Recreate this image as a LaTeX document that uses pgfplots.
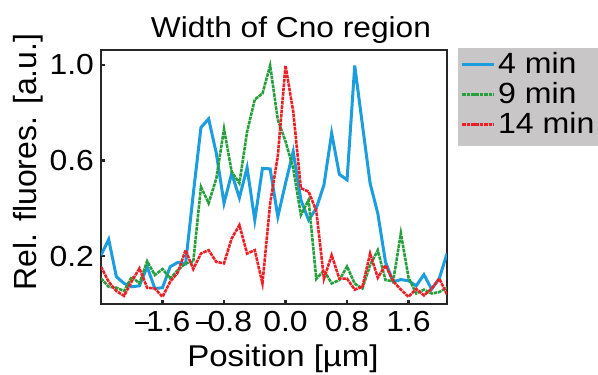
\documentclass[border=0pt]{standalone}
\usepackage{pgfplots}
\pgfplotsset{compat=1.18}
\usepackage{fontspec}
\setmainfont{Liberation Sans}[FakeStretch=1.1]
\newfontfamily\ylabfont{Liberation Sans}
\definecolor{cblue}{RGB}{28,158,222}
\definecolor{cgreen}{RGB}{40,158,62}
\definecolor{cred}{RGB}{236,32,39}
\definecolor{lgray}{RGB}{200,198,198}
\newcommand{\mn}{\makebox[5.8pt][l]{\rule[3.5pt]{7.2pt}{1.1pt}}}
\begin{document}
\begin{tikzpicture}
\begin{axis}[
  scale only axis,
  width=173pt, height=127pt,
  xmin=-2.4, xmax=2.1, ymin=0, ymax=1.062,
  axis line style={line width=1.2pt, black!85},
  tick pos=left, tick align=inside,
  major tick length=2pt,
  tick style={line width=1.2pt, black!85},
  xtick={-1.6,-0.8,0,0.8,1.6},
  xticklabels={\mn1.6,\mn0.8,0.0,0.8,1.6},
  ytick={0.2,0.6,1.0},
  yticklabels={0.2,0.6,1.0},
  tick label style={font=\fontsize{14.5}{17}\selectfont},
  xlabel={Position [µm]},
  ylabel={Rel. fluores. [a.u.]},
  xlabel style={font=\fontsize{15}{18}\selectfont, xshift=4.5pt, yshift=0.5pt},
  ylabel style={font=\ylabfont\fontsize{16}{19}\selectfont, yshift=-3.5pt, xshift=7.5pt},
  title={Width of Cno region},
  title style={font=\fontsize{14.4}{17}\selectfont, at={(0.549,1)}, yshift=-6.5pt},
  legend style={fill=lgray, draw=none, at={(1.03,1.008)}, anchor=north west,
    font=\fontsize{14.6}{17}\selectfont, inner xsep=1.5pt, inner ysep=2pt, row sep=0pt,
    nodes={inner xsep=1.2pt, inner ysep=0pt, text height=10.5pt, text depth=4.5pt}},
  legend cell align=left,
  legend image code/.code={\draw[#1] (0cm,0.05cm) -- (0.56cm,0.05cm);},
]
\addplot[cblue, line width=1.5pt] coordinates {
(-2.4,0.204)(-2.3,0.27)(-2.2,0.114)(-2.1,0.086)(-2.0,0.072)(-1.9,0.076)(-1.8,0.156)(-1.7,0.065)(-1.6,0.068)(-1.5,0.156)
(-1.4,0.174)(-1.3,0.168)(-1.2,0.46)(-1.1,0.738)(-1.0,0.774)(-0.9,0.63)(-0.8,0.421)(-0.7,0.546)(-0.6,0.444)(-0.5,0.57)
(-0.4,0.351)(-0.3,0.567)(-0.2,0.565)(-0.1,0.365)(0.0,0.505)(0.1,0.637)(0.2,0.435)(0.3,0.351)(0.4,0.40)(0.5,0.498)
(0.6,0.714)(0.7,0.542)(0.8,0.519)(0.9,0.997)(1.0,0.749)(1.1,0.505)(1.2,0.379)(1.3,0.176)(1.4,0.093)(1.5,0.102)
(1.6,0.097)(1.7,0.076)(1.8,0.123)(1.9,0.062)(2.0,0.107)(2.1,0.211)};
\addlegendentry{4 min}
\addplot[cgreen, line width=1.3pt, dash pattern=on 1.8pt off 0.4pt] coordinates {
(-2.4,0.107)(-2.3,0.072)(-2.2,0.068)(-2.1,0.054)(-2.0,0.114)(-1.9,0.086)(-1.8,0.179)(-1.7,0.121)(-1.6,0.146)(-1.5,0.107)
(-1.4,0.142)(-1.3,0.17)(-1.2,0.176)(-1.1,0.49)(-1.0,0.421)(-0.9,0.525)(-0.8,0.732)(-0.7,0.553)(-0.6,0.505)(-0.5,0.72)
(-0.4,0.855)(-0.3,0.88)(-0.2,0.997)(-0.1,0.77)(0.0,0.68)(0.1,0.567)(0.2,0.372)(0.3,0.435)(0.4,0.105)(0.5,0.14)
(0.6,0.086)(0.7,0.1)(0.8,0.157)(0.9,0.085)(1.0,0.065)(1.1,0.163)(1.2,0.225)(1.3,0.1)(1.4,0.095)(1.5,0.296)
(1.6,0.11)(1.7,0.044)(1.8,0.06)(1.9,0.044)(2.0,0.05)(2.1,0.068)};
\addlegendentry{9 min}
\addplot[cred, line width=1.3pt, dash pattern=on 1.8pt off 0.4pt] coordinates {
(-2.4,0.156)(-2.3,0.093)(-2.2,0.054)(-2.1,0.034)(-2.0,0.095)(-1.9,0.149)(-1.8,0.068)(-1.7,0.065)(-1.6,0.03)(-1.5,0.093)
(-1.4,0.132)(-1.3,0.225)(-1.2,0.146)(-1.1,0.211)(-1.0,0.225)(-0.9,0.176)(-0.8,0.17)(-0.7,0.274)(-0.6,0.33)(-0.5,0.211)
(-0.4,0.225)(-0.3,0.086)(-0.2,0.42)(-0.1,0.62)(0.0,0.997)(0.1,0.805)(0.2,0.484)(0.3,0.47)(0.4,0.39)(0.5,0.106)
(0.6,0.204)(0.7,0.106)(0.8,0.106)(0.9,0.06)(1.0,0.072)(1.1,0.211)(1.2,0.11)(1.3,0.162)(1.4,0.095)(1.5,0.06)
(1.6,0.03)(1.7,0.063)(1.8,0.036)(1.9,0.064)(2.0,0.106)(2.1,0.04)};
\addlegendentry{14 min}
\end{axis}
\pgfresetboundingbox
\path (current axis.south west) ++(-50.5pt,-35pt) rectangle ++(299pt,187pt);
\end{tikzpicture}
\end{document}
